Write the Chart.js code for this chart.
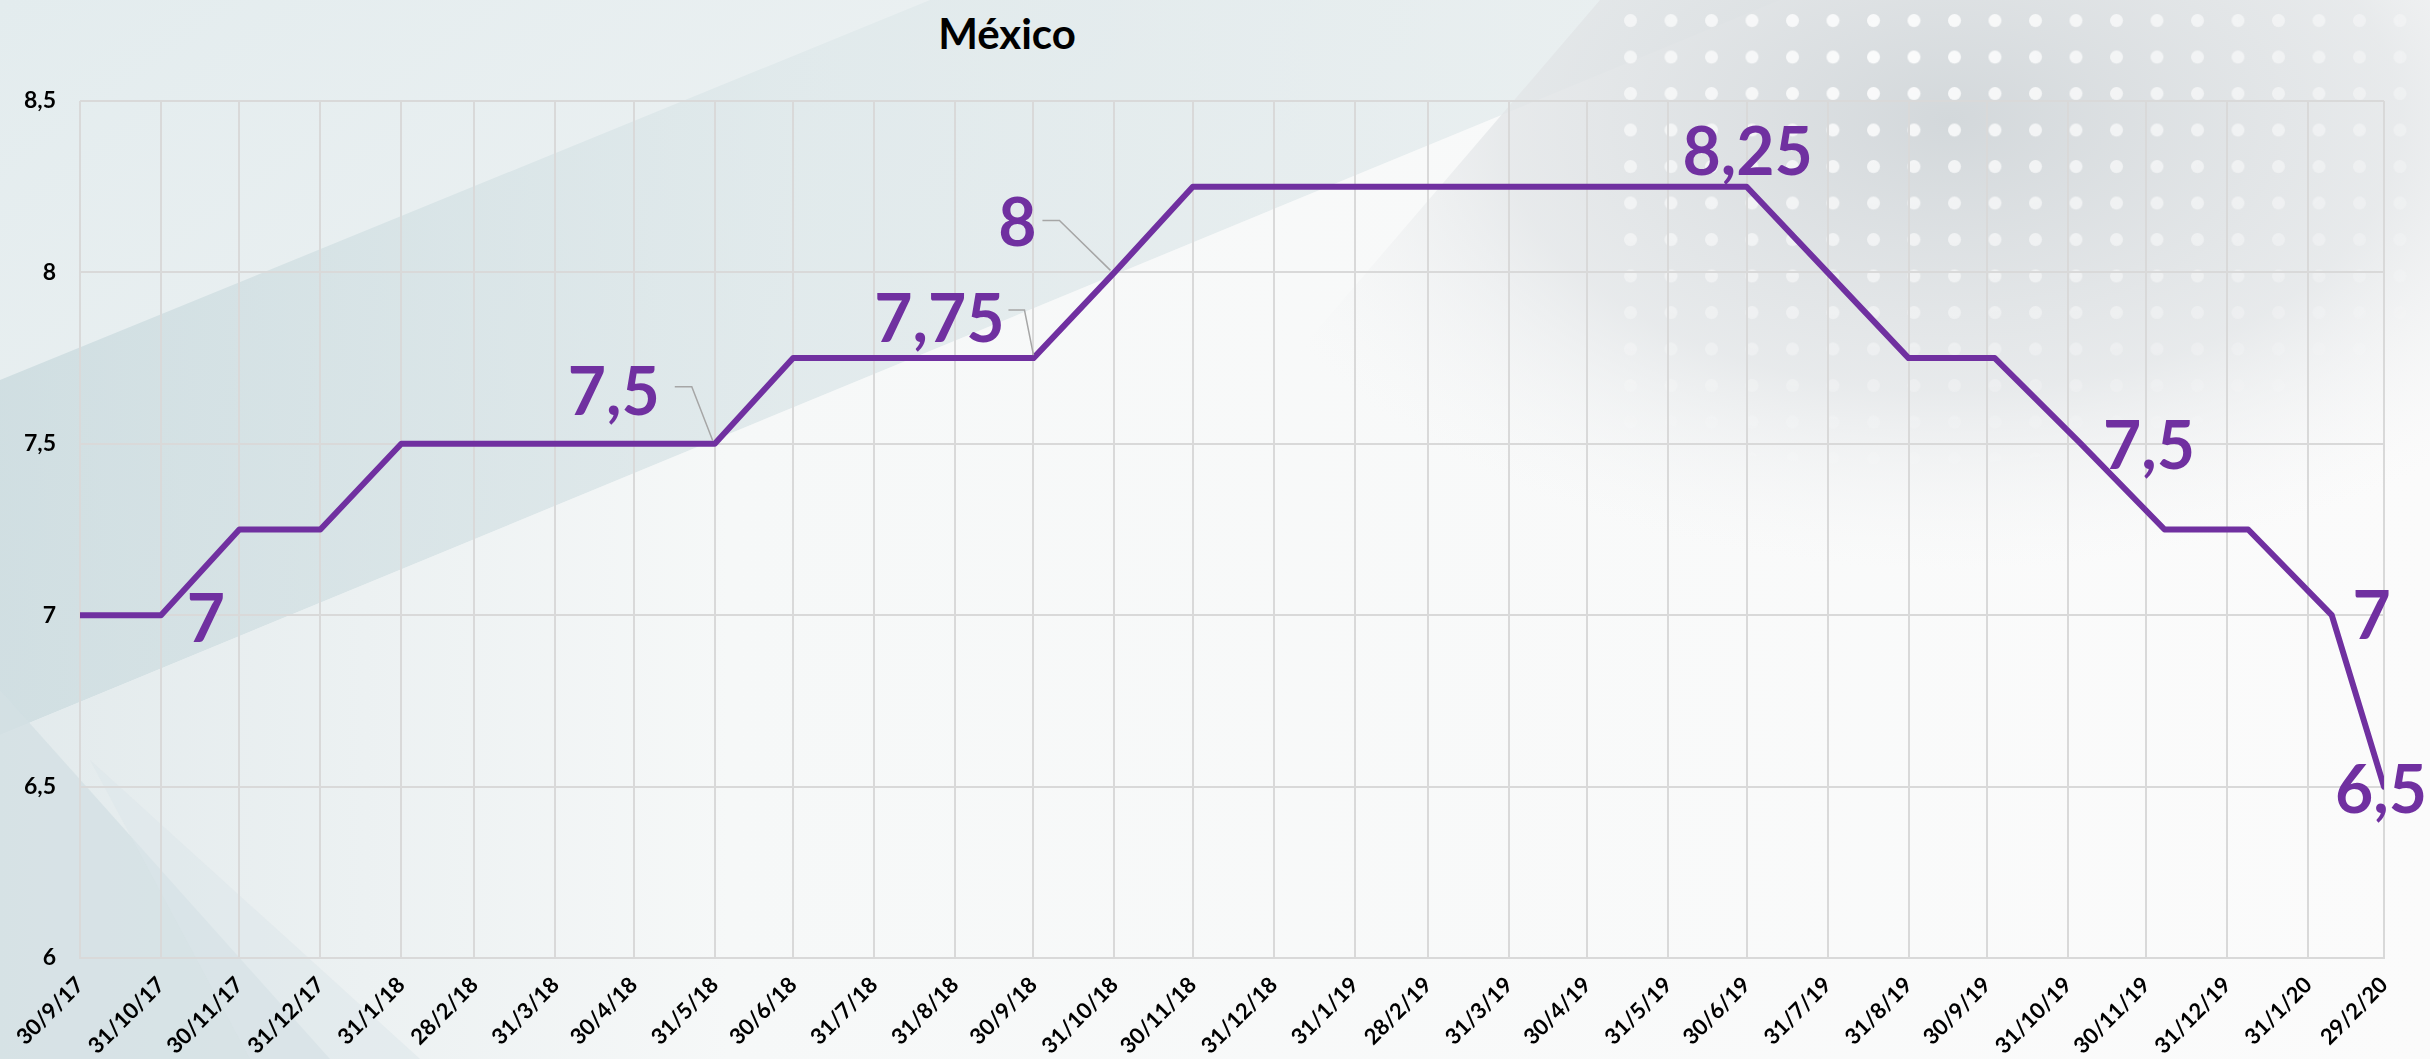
<!DOCTYPE html>
<html lang="es">
<head>
<meta charset="utf-8">
<title>México</title>
<script src="https://cdn.jsdelivr.net/npm/chart.js@4.4.1/dist/chart.umd.min.js"></script>
<style>
  html, body { margin: 0; padding: 0; }
  body { width: 2430px; height: 1059px; position: relative; overflow: hidden; background: #f6f7f7; font-family: Lato, sans-serif; }
  #fondo { position: absolute; left: 0; top: 0; }
  #titulo { position: absolute; left: 1007px; top: 8px; transform: translateX(-50%); font: bold 42px Lato, sans-serif; color: #000; }
  #grafico { position: absolute; left: 0; top: 0; }
</style>
</head>
<body>
<svg id="fondo" width="2430" height="1059" xmlns="http://www.w3.org/2000/svg">
  <defs>
    <linearGradient id="gBase" x1="0" y1="0" x2="1" y2="0.6">
      <stop offset="0" stop-color="#e3ecee"/>
      <stop offset="0.45" stop-color="#eef2f3"/>
      <stop offset="1" stop-color="#f8f8f9"/>
    </linearGradient>
    <linearGradient id="gBanda" x1="0" y1="0" x2="1" y2="0">
      <stop offset="0" stop-color="#c8d9dd"/>
      <stop offset="0.45" stop-color="#dee8ea"/>
      <stop offset="1" stop-color="#e9eff0"/>
    </linearGradient>
    <linearGradient id="gInferior" x1="0" y1="0" x2="1" y2="0">
      <stop offset="0" stop-color="#e2eaec"/>
      <stop offset="0.3" stop-color="#f6f8f8"/>
      <stop offset="1" stop-color="#fbfbfb"/>
    </linearGradient>
    <radialGradient id="gGris" cx="1950" cy="120" r="750" gradientUnits="userSpaceOnUse" gradientTransform="translate(1950 120) scale(1 0.6) translate(-1950 -120)">
      <stop offset="0" stop-color="#d3d8db"/>
      <stop offset="0.6" stop-color="#e3e6e8" stop-opacity="0.8"/>
      <stop offset="1" stop-color="#f3f4f5" stop-opacity="0"/>
    </radialGradient>
    <radialGradient id="gMascara" cx="1900" cy="60" r="700" gradientUnits="userSpaceOnUse" gradientTransform="translate(1900 60) scale(1 0.6) translate(-1900 -60)">
      <stop offset="0" stop-color="#fff"/>
      <stop offset="0.55" stop-color="#888"/>
      <stop offset="1" stop-color="#000"/>
    </radialGradient>
    <pattern id="pPuntos" x="1705" y="14" width="40.5" height="36.5" patternUnits="userSpaceOnUse">
      <circle cx="6.5" cy="6.5" r="6.5" fill="#ffffff"/>
    </pattern>
    <mask id="mPuntos">
      <rect width="2430" height="1059" fill="url(#gMascara)"/>
    </mask>
  </defs>
  <rect width="2430" height="1059" fill="url(#gBase)"/>
  <polygon points="0,380 930,0 1780,0 0,735" fill="url(#gBanda)" opacity="0.75"/>
  <polygon points="0,735 1780,0 2430,0 2430,1059 0,1059" fill="url(#gInferior)"/>
  <polygon points="0,690 330,1059 0,1059" fill="#d3e0e3" opacity="0.8"/>
  <polygon points="90,760 420,1059 250,1059" fill="#dbe6e9" opacity="0.5"/>
  <polygon points="1600,0 2430,0 2430,700 1000,700" fill="url(#gGris)"/>
  <rect x="1600" y="0" width="830" height="720" fill="url(#pPuntos)" mask="url(#mPuntos)" opacity="0.9"/>
</svg>
<div id="titulo">México</div>
<canvas id="grafico" width="2430" height="1059"></canvas>
<script>
// Etiquetas del eje X (fin de mes)
const fechasEje = ['30/9/17', '31/10/17', '30/11/17', '31/12/17', '31/1/18', '28/2/18', '31/3/18', '30/4/18',
  '31/5/18', '30/6/18', '31/7/18', '31/8/18', '30/9/18', '31/10/18', '30/11/18', '31/12/18', '31/1/19',
  '28/2/19', '31/3/19', '30/4/19', '31/5/19', '30/6/19', '31/7/19', '31/8/19', '30/9/19', '31/10/19',
  '30/11/19', '31/12/19', '31/1/20', '29/2/20']

// Fechas de los puntos de la serie
const fechas = ['30/9/17', '31/10/17', '30/11/17', '31/12/17', '31/1/18', '28/2/18', '31/3/18', '30/4/18',
  '31/5/18', '30/6/18', '31/7/18', '31/8/18', '30/9/18', '31/10/18', '30/11/18', '31/12/18', '31/1/19',
  '28/2/19', '31/3/19', '30/4/19', '31/5/19', '30/6/19', '31/7/19', '31/8/19', '3/10/19', '5/11/19',
  '7/12/19', '8/1/20', '9/2/20', '29/2/20']

// Tasa de interés
const tasas = [7, 7, 7.25, 7.25, 7.5, 7.5, 7.5, 7.5, 7.5, 7.75, 7.75, 7.75, 7.75, 8, 8.25, 8.25, 8.25,
  8.25, 8.25, 8.25, 8.25, 8.25, 8, 7.75, 7.75, 7.5, 7.25, 7.25, 7, 6.5]

// Ticks del eje Y
const ticksY = [6, 6.5, 7, 7.5, 8, 8.5]

// Puntos con etiqueta de dato
const etiquetaIdx = [1, 8, 12, 13, 21, 25, 28, 29]

const morado = '#7030a0'
const gris = '#d9d9d9'

// posicion de cada etiqueta respecto a su punto (y linea guia si lleva)
const posEtiquetas = [
  {dx: 45, dy: 3},
  {dx: -101, dy: -53, guia: [[-40, -57], [-23, -57], [-2, -3]]},
  {dx: -94, dy: -40, guia: [[-25, -48], [-9, -48], [0, -3]]},
  {dx: -97, dy: -50, guia: [[-72, -52], [-55, -52], [-4, -2]]},
  {dx: 1, dy: -36},
  {dx: 68, dy: 1},
  {dx: 40, dy: 0},
  {dx: -3, dy: 2}
]

function aFecha(txt) {
  const p = txt.split('/').map(Number)
  return Date.UTC(2000 + p[2], p[1] - 1, p[0])
}
const origen = aFecha(fechasEje[0])
function dia(txt) {
  return Math.round((aFecha(txt) - origen) / 86400000)
}
function coma(v) {
  return String(v).replace('.', ',')
}

const diasEje = fechasEje.map(dia)

const etiquetasPlugin = {
  id: 'etiquetas',
  afterDatasetsDraw(chart) {
    const meta = chart.getDatasetMeta(0)
    const c = chart.ctx
    c.save()
    etiquetaIdx.forEach((idx, k) => {
      const p = meta.data[idx]
      const o = posEtiquetas[k]
      if (o.guia) {
        c.strokeStyle = '#a6a6a6'
        c.lineWidth = 1.5
        c.beginPath()
        o.guia.forEach(([gx, gy], j) => {
          if (j === 0) c.moveTo(p.x + gx, p.y + gy)
          else c.lineTo(p.x + gx, p.y + gy)
        })
        c.stroke()
      }
      c.fillStyle = morado
      c.font = 'bold 66px Lato'
      c.textAlign = 'center'
      c.textBaseline = 'alphabetic'
      c.fillText(coma(tasas[idx]), p.x + o.dx, p.y + o.dy + 24)
    })
    c.restore()
  }
}

function dibujar() {
  const ctx = document.getElementById('grafico').getContext('2d')
  new Chart(ctx, {
    type: 'line',
    data: {
      datasets: [{
        data: fechas.map((f, i) => ({x: dia(f), y: tasas[i]})),
        borderColor: morado,
        borderWidth: 6,
        pointRadius: 0,
        tension: 0,
        borderJoinStyle: 'round',
        borderCapStyle: 'round'
      }]
    },
    options: {
      responsive: false,
      animation: false,
      devicePixelRatio: 1,
      layout: {padding: {top: 101, right: 46, left: 0, bottom: 0}},
      plugins: {legend: {display: false}, tooltip: {enabled: false}},
      scales: {
        x: {
          type: 'linear',
          min: diasEje[0],
          max: diasEje[diasEje.length - 1],
          afterBuildTicks: s => { s.ticks = diasEje.map(v => ({value: v})) },
          afterFit: s => { s.height = 101 },
          grid: {color: gris, lineWidth: 2, drawTicks: false},
          border: {color: gris, width: 2},
          ticks: {
            autoSkip: false, maxRotation: 45, minRotation: 45, padding: 14,
            color: '#000', font: {family: 'Lato', size: 22, weight: 'bold'},
            callback: v => fechasEje[diasEje.indexOf(v)]
          }
        },
        y: {
          min: ticksY[0],
          max: ticksY[ticksY.length - 1],
          afterBuildTicks: s => { s.ticks = ticksY.map(v => ({value: v})) },
          afterFit: s => { s.width = 80 },
          grid: {color: gris, lineWidth: 2, drawTicks: false},
          border: {display: false},
          ticks: {
            padding: 24, color: '#000', font: {family: 'Lato', size: 23, weight: 'bold'},
            callback: v => coma(v)
          }
        }
      }
    },
    plugins: [etiquetasPlugin]
  })
}

if (document.fonts && document.fonts.load) {
  document.fonts.load('bold 66px Lato').then(dibujar, dibujar)
} else {
  dibujar()
}
</script>
</body>
</html>
